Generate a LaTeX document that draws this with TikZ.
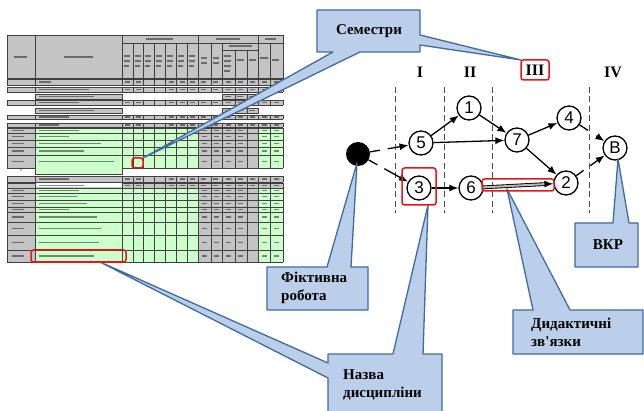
\documentclass[tikz,border=0pt]{standalone}
\usepackage{fontspec}
\setmainfont{Liberation Serif}
\newfontfamily\sansf{Liberation Sans}
\usetikzlibrary{arrows.meta,calc}
\definecolor{cfill}{HTML}{BBCFEA}
\definecolor{cline}{HTML}{3F6C9E}
\definecolor{tgrey}{HTML}{C4C4C4}
\definecolor{tgreen}{HTML}{CCFFCC}
\definecolor{tline}{HTML}{404040}
\definecolor{tred}{HTML}{E8141A}
\newcommand\greenrow[3]{%
  \fill[tgrey] (7,#1) rectangle (35,#2);
  \fill[tgreen] (35,#1) rectangle (198,#2);
  \fill[tgrey] (198,#1) rectangle (258,#2);
  \fill[tgreen] (258,#1) rectangle (283,#2);
  \foreach \xx in {7,35,122,133,143,154,165,176,187,198,211,222,235,247,258,270,283} {\draw[tl] (\xx,#1) -- (\xx,#2);}
  \draw[tl] (7,#1) -- (283,#1) (7,#2) -- (283,#2);
  \draw[txt] (39,{(#1+#2)/2}) -- ++(#3,0);
  \draw[txt] (12,{(#1+#2)/2}) -- ++(12,0);
  \foreach \xx in {202,214,226,238,262,274} {\draw[txt] (\xx,{(#1+#2)/2}) -- ++(5,0);}
}
\newcommand\greyrow[3]{%
  \fill[tgrey] (7,#1) rectangle (283,#2);
  \foreach \xx in {7,35,122,133,143,154,165,176,187,198,211,222,235,247,258,270,283} {\draw[tl] (\xx,#1) -- (\xx,#2);}
  \draw[tl] (7,#1) -- (283,#1) (7,#2) -- (283,#2);
  \draw[txt] (39,{(#1+#2)/2}) -- ++(#3,0);
  \foreach \xx in {125,136,169,180,190,201,213,226,238,250,262,274} {\draw[txt] (\xx,{(#1+#2)/2}) -- ++(5,0);}
}
\newcommand\partrow[3]{%
  \fill[tgrey] (35,#1) rectangle (122,#2);
  \fill[tgrey] (222,#1) rectangle (258,#2);
  \draw[tl] (35,#1) rectangle (122,#2);
  \draw[tl] (222,#1) rectangle (258,#2) (235,#1) -- (235,#2) (247,#1) -- (247,#2);
  \draw[txt] (39,{(#1+#2)/2}) -- ++(#3,0);
  \foreach \xx in {225,237,249} {\draw[txt] (\xx,{(#1+#2)/2}) -- ++(6,0);}
}
\begin{document}
\begin{tikzpicture}[x=1pt,y=-1pt,
  tl/.style={draw=tline, line width=0.45pt},
  txt/.style={draw=black, line width=1.1pt, opacity=0.45},
  callout/.style={fill=cfill, draw=cline, line width=1.3pt, line join=round},
  ctext/.style={font=\bfseries\fontsize{15}{18}\selectfont, inner sep=0pt, align=left},
  gnode/.style={circle, draw, line width=1.3pt, minimum size=24pt, inner sep=0pt, fill=white, font=\sansf\fontsize{17}{17}\selectfont},
  arr/.style={line width=1.3pt, -{Latex[length=9pt,width=7pt]}},
  fict/.style={arr, dash pattern=on 10pt off 8pt on 60pt},
  vdash/.style={draw=gray!60!black, line width=0.9pt, dash pattern=on 6pt off 3.5pt},
  redbox/.style={draw=tred, line width=1.5pt, rounded corners=2.5pt},
  roman/.style={font=\bfseries\fontsize{16}{16}\selectfont, inner sep=0pt}]
\useasboundingbox (0,0) rectangle (644,411);
\fill[white] (0,0) rectangle (644,411);

% ---------- spreadsheet ----------
\fill[tgrey] (7,35) rectangle (283,78);
\draw[tl] (7,35) rectangle (283,78);
\foreach \xx in {35,122,198,258} {\draw[tl] (\xx,35) -- (\xx,78);}
\draw[tl] (122,43) -- (283,43);
\foreach \xx in {133,143,154,165,176,187,211,222,270} {\draw[tl] (\xx,43) -- (\xx,78);}
\draw[tl] (222,50) -- (258,50);
\foreach \xx in {235,247} {\draw[tl] (\xx,50) -- (\xx,78);}
\draw[txt] (14,57) -- (27,57);
\draw[txt] (64,57) -- (93,57);
\draw[txt] (146,39) -- (173,39);
\draw[txt] (216,39) -- (240,39);
\draw[txt] (265,39) -- (276,39);
\draw[txt] (229,46) -- (252,46);
\foreach \xx in {124,135,145,156,167,178,189} {\draw[txt] (\xx,56) -- ++(6,0); \draw[txt] (\xx,61) -- ++(6,0); \draw[txt] (\xx,66) -- ++(5,0);}
\foreach \xx in {201,213} {\draw[txt] (\xx,58) -- ++(6,0); \draw[txt] (\xx,63) -- ++(6,0);}
\draw[txt] (224,56) -- ++(7,0); \draw[txt] (224,61) -- ++(7,0); \draw[txt] (224,66) -- ++(7,0); \draw[txt] (224,71) -- ++(6,0);
\draw[txt] (237,60) -- ++(7,0); \draw[txt] (249,60) -- ++(7,0);
\draw[txt] (260,58) -- ++(8,0); \draw[txt] (272,60) -- ++(7,0);

\greyrow{79}{85}{12}
\greyrow{87}{92}{50}
\partrow{94}{99}{55}
\greyrow{100}{105}{40}
\partrow{108}{113}{55}
\greyrow{115}{119}{30}
\greyrow{123}{127}{20}
\greenrow{128}{133}{40}
\greenrow{133}{140}{30}
\greenrow{140}{147}{62}
\greenrow{147}{155}{45}
\greenrow{155}{168}{75}
\fill[tgreen] (35,168) rectangle (122,174);
\draw[tl] (35,168) -- (35,174) -- (122,174) -- (122,168);
\node[font=\fontsize{4}{4}\selectfont, inner sep=0pt] (star) at (21,171) {*};
\greyrow{176}{182}{30}
\greyrow{183}{188}{45}
\fill[white] (36,183.5) rectangle (121.5,187.5);
\draw[txt] (39,185.5) -- ++(45,0);
\greenrow{188}{193}{40}
\greenrow{193}{200}{38}
\greenrow{200}{207}{48}
\greenrow{207}{212}{30}
\greenrow{212}{222}{58}
\greenrow{222}{235}{62}
\greenrow{235}{250}{60}
\greenrow{250}{262}{55}

% ---------- semester lines and labels ----------
\foreach \xx in {395,444,492,589} {\draw[vdash] (\xx,87) -- (\xx,213);}
\node[roman] (sI) at (420,72) {I};
\node[roman] (sII) at (470,72) {II};
\node[roman] (sIII) at (535,70) {III};
\node[roman] (sIV) at (613,72) {IV};

% ---------- network ----------
\node[circle, fill=black, minimum size=24pt, inner sep=0pt] (dot) at (358,154) {};
\node[gnode] (n5) at (421,143) {5};
\node[gnode] (n1) at (469,108) {1};
\node[gnode] (n7) at (517,140) {7};
\node[gnode] (n4) at (569,118) {4};
\node[gnode] (nB) at (615,148) {В};
\node[gnode] (n3) at (419,188) {3};
\node[gnode] (n6) at (471,188) {6};
\node[gnode] (n2) at (566,183) {2};

\draw[fict] (dot) -- (n5);
\draw[fict] (dot) -- (n3);
\draw[arr] (n5) -- (n1);
\draw[arr] (n5) -- (n7);
\draw[arr] (n1) -- (n7);
\draw[arr] (n7) -- (n4);
\draw[arr] (n7) -- (n2);
\draw[arr] (n3) -- (n6);
\draw[arr, dash pattern=on 10pt off 10pt on 60pt] (n4) -- (nB);
\draw[arr, dash pattern=on 9pt off 8pt on 60pt] (n2) -- (nB);
\coordinate (d6) at ($(n6)!12pt!(n2)$);
\coordinate (d2) at ($(n2)!20pt!(n6)$);
\draw[line width=0.9pt, double=gray!55, double distance=2pt] (d6) -- (d2);
\draw[arr] (d2) -- (n2);

% ---------- callouts ----------
\coordinate (tipsem) at (143,158);
\coordinate (tipIII) at (521,60);
\draw[callout] (317,10) -- (420,10) -- (420,35) -- (tipIII) -- (420,45) -- (420,52) -- (360,52) -- (tipsem) -- (333,52) -- (317,52) -- cycle;
\node[ctext] (tsem) at (369,31) {Семестри};

\coordinate (tipfik) at (357,163);
\draw[callout] (267,267) -- (327,267) -- (tipfik) -- (351,267) -- (368,267) -- (368,310) -- (267,310) -- cycle;
\node[ctext, anchor=north west] (tfik) at (281,272) {Фіктивна\\робота};

\coordinate (tipn3) at (428,205);
\coordinate (tiptab) at (100,262);
\draw[callout] (328,354) -- (393,354) -- (tipn3) -- (423,354) -- (442,354) -- (442,420) -- (328,420) -- (328,378) -- (tiptab) -- (328,363) -- cycle;
\node[ctext, anchor=north west] (tnaz) at (343,369) {Назва\\дисципліни};

\coordinate (tipdid) at (507,189);
\draw[callout] (513,310) -- (533,310) -- (tipdid) -- (570,310) -- (643,310) -- (643,354) -- (513,354) -- cycle;
\node[ctext, anchor=north west] (tdid) at (531,318) {Дидактичні\\зв\textquotesingle язки};

\coordinate (tipvkr) at (618,159);
\draw[callout] (575,223) -- (613,223) -- (tipvkr) -- (629,223) -- (638,223) -- (638,267) -- (575,267) -- cycle;
\node[ctext] (tvkr) at (608,245) {ВКР};

% ---------- red highlight boxes ----------
\draw[redbox] (132,158) rectangle (143,168);
\draw[redbox] (31,250) rectangle (126,262);
\draw[redbox] (521,60) rectangle (549,80);
\draw[redbox] (402,168) rectangle (436,205);
\draw[redbox] (482,179) rectangle (554,191);
\end{tikzpicture}
\end{document}
